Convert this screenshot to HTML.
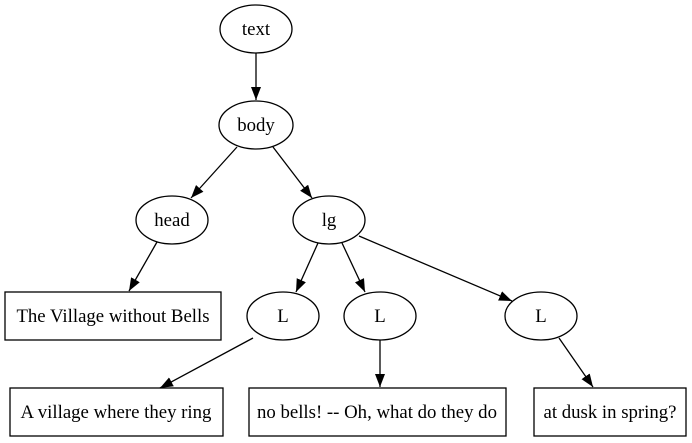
<!DOCTYPE html>
<html><head><meta charset="utf-8"><style>html,body{margin:0;padding:0;background:#fff}svg{display:block}</style></head>
<body>
<svg width="692" height="443" viewBox="0 0 692 443" xmlns="http://www.w3.org/2000/svg" font-family="'Liberation Serif', serif" font-size="18.8">
<defs><marker id="a" markerWidth="13" markerHeight="10" refX="13" refY="5" orient="auto" markerUnits="userSpaceOnUse"><path d="M0,0 L13,5 L0,10 Z" fill="#000"/></marker></defs>
<g fill="none" stroke="#000" stroke-width="1.3">
<ellipse cx="256" cy="29" rx="36" ry="24"/>
<ellipse cx="256" cy="125" rx="37" ry="24"/>
<ellipse cx="172" cy="220" rx="36" ry="24"/>
<ellipse cx="329" cy="220" rx="36" ry="24"/>
<ellipse cx="283" cy="316" rx="36" ry="24"/>
<ellipse cx="380" cy="316" rx="36" ry="24"/>
<ellipse cx="541" cy="316" rx="36" ry="24"/>
<rect x="5" y="292" width="216" height="48"/>
<rect x="10" y="388" width="213" height="48"/>
<rect x="249" y="388" width="257" height="48"/>
<rect x="534" y="388" width="152" height="48"/>
<line x1="256" y1="53" x2="256" y2="100" marker-end="url(#a)"/>
<line x1="237" y1="147" x2="191" y2="198" marker-end="url(#a)"/>
<line x1="273" y1="147" x2="312" y2="198" marker-end="url(#a)"/>
<line x1="157" y1="242" x2="129" y2="291" marker-end="url(#a)"/>
<line x1="318" y1="243" x2="296" y2="292" marker-end="url(#a)"/>
<line x1="342" y1="243" x2="365" y2="292" marker-end="url(#a)"/>
<line x1="359" y1="236" x2="512" y2="301" marker-end="url(#a)"/>
<line x1="253" y1="338" x2="160" y2="388" marker-end="url(#a)"/>
<line x1="380" y1="340" x2="380" y2="387" marker-end="url(#a)"/>
<line x1="559" y1="338" x2="593" y2="387" marker-end="url(#a)"/>
</g>
<g text-anchor="middle" fill="#000">
<text x="256" y="35">text</text>
<text x="256" y="131">body</text>
<text x="172" y="226">head</text>
<text x="329" y="226">lg</text>
<text x="283" y="322">L</text>
<text x="380" y="322">L</text>
<text x="541" y="322">L</text>
<text x="113" y="322">The Village without Bells</text>
<text x="116" y="418">A village where they ring</text>
<text x="377" y="418">no bells! -- Oh, what do they do</text>
<text x="610" y="418">at dusk in spring?</text>
</g>
</svg>
</body></html>
